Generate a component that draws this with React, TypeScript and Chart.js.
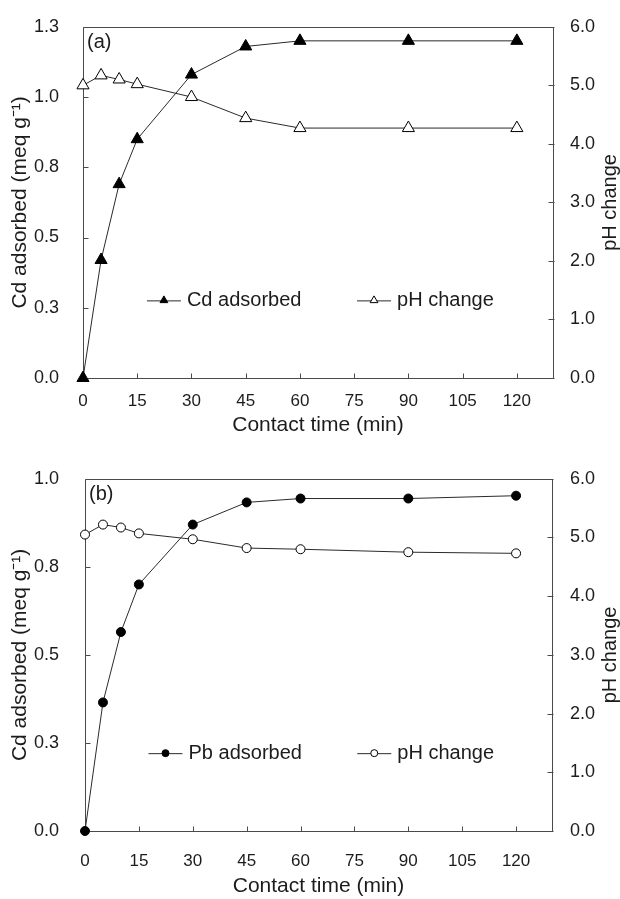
import React, { useEffect, useRef } from 'react';
import { Chart, registerables } from 'chart.js';

Chart.register(...registerables);

// ---- data ----
const time = [0, 5, 10, 15, 30, 45, 60, 90, 120];
const cdAdsorbed = [0, 0.42, 0.69, 0.85, 1.08, 1.18, 1.2, 1.2, 1.2];
const phChangeA = [5.0, 5.17, 5.1, 5.02, 4.8, 4.44, 4.27, 4.27, 4.27];
const pbAdsorbed = [0, 0.365, 0.565, 0.7, 0.87, 0.933, 0.944, 0.944, 0.952];
const phChangeB = [5.05, 5.22, 5.17, 5.07, 4.97, 4.82, 4.8, 4.75, 4.73];

const xTicks = [0, 15, 30, 45, 60, 75, 90, 105, 120];
const leftTicksA = [0, 0.25, 0.5, 0.75, 1.0, 1.25];
const leftTicksB = [0, 0.25, 0.5, 0.75, 1.0];
const rightTicks = [0, 1, 2, 3, 4, 5, 6];

const xTitle = 'Contact time (min)';
const leftTitle = 'Cd adsorbed (meq g\u207B\u00B9)';
const rightTitle = 'pH change';

const FONT = "'Liberation Sans', Arial, Helvetica, sans-serif";
const TEXT = '#1c1c1c';
const AXIS = '#4a4a4a';
const LINE = '#2a2a2a';

type Panel = {
  tag: string;
  adsorbed: number[];
  adsorbedName: string;
  ph: number[];
  leftMax: number;
  leftTicks: number[];
  pointStyle: 'triangle' | 'circle';
  radius: number;
  legendRadius: number;
  layout: {
    top: number;
    left: number;
    right: number;
    xHeight: number;
    xTickPad: number;
    xTitlePad: number;
    leftTickPad: number;
    rightTickPad: number;
  };
};

const panels: Panel[] = [
  {
    tag: '(a)',
    adsorbed: cdAdsorbed,
    adsorbedName: 'Cd adsorbed',
    ph: phChangeA,
    leftMax: 1.25,
    leftTicks: leftTicksA,
    pointStyle: 'triangle',
    radius: 7,
    legendRadius: 4.5,
    layout: { top: 17, left: 83, right: 67, xHeight: 71, xTickPad: 5, xTitlePad: 11, leftTickPad: 16, rightTickPad: 9 },
  },
  {
    tag: '(b)',
    adsorbed: pbAdsorbed,
    adsorbedName: 'Pb adsorbed',
    ph: phChangeB,
    leftMax: 1.0,
    leftTicks: leftTicksB,
    pointStyle: 'circle',
    radius: 4.5,
    legendRadius: 3.5,
    layout: { top: 22, left: 85, right: 68, xHeight: 68, xTickPad: 12, xTitlePad: 0, leftTickPad: 18, rightTickPad: 10 },
  },
];

function drawMarker(ctx: CanvasRenderingContext2D, style: string, x: number, y: number, r: number, filled: boolean) {
  ctx.beginPath();
  if (style === 'triangle') {
    let rad = 0;
    ctx.moveTo(x + Math.sin(rad) * r, y - Math.cos(rad) * r);
    rad += (2 * Math.PI) / 3;
    ctx.lineTo(x + Math.sin(rad) * r, y - Math.cos(rad) * r);
    rad += (2 * Math.PI) / 3;
    ctx.lineTo(x + Math.sin(rad) * r, y - Math.cos(rad) * r);
    ctx.closePath();
  } else {
    ctx.arc(x, y, r, 0, Math.PI * 2);
  }
  ctx.fillStyle = filled ? '#000' : '#fff';
  ctx.fill();
  ctx.strokeStyle = '#000';
  ctx.lineWidth = 1;
  ctx.stroke();
}

function makeDecor(panel: Panel) {
  return {
    id: 'decor',
    beforeDatasetsDraw(chart: any) {
      const ctx = chart.ctx as CanvasRenderingContext2D;
      const a = chart.chartArea;
      ctx.save();
      ctx.strokeStyle = AXIS;
      ctx.lineWidth = 1;
      const L = Math.round(a.left) + 0.5;
      const R = Math.round(a.right) + 0.5;
      const T = Math.round(a.top) + 0.5;
      const B = Math.round(a.bottom) + 0.5;
      ctx.beginPath();
      ctx.rect(L, T, R - L, B - T);
      ctx.stroke();
      const tl = 5;
      ctx.beginPath();
      const xs = chart.scales.x;
      xTicks.forEach((v) => {
        const px = Math.round(xs.getPixelForValue(v)) + 0.5;
        ctx.moveTo(px, B);
        ctx.lineTo(px, B - tl);
      });
      const ys = chart.scales.y;
      panel.leftTicks.forEach((v) => {
        const py = Math.round(ys.getPixelForValue(v)) + 0.5;
        ctx.moveTo(L, py);
        ctx.lineTo(L + tl, py);
      });
      const y1 = chart.scales.y1;
      rightTicks.forEach((v) => {
        const py = Math.round(y1.getPixelForValue(v)) + 0.5;
        ctx.moveTo(R - tl, py);
        ctx.lineTo(R + 1, py);
      });
      ctx.stroke();
      ctx.restore();
    },
    afterDraw(chart: any) {
      const ctx = chart.ctx as CanvasRenderingContext2D;
      const a = chart.chartArea;
      const w = a.right - a.left;
      const h = a.bottom - a.top;
      ctx.save();
      ctx.fillStyle = TEXT;
      ctx.font = `20px ${FONT}`;
      ctx.textBaseline = 'middle';
      ctx.textAlign = 'left';
      // panel tag
      ctx.fillText(panel.tag, a.left + 4, a.top + 16);
      // legend
      const ly = a.top + h * 0.779;
      const items = [
        { name: panel.adsorbedName, filled: true, fx: 0.136 },
        { name: rightTitle, filled: false, fx: 0.583 },
      ];
      items.forEach((it) => {
        const x0 = a.left + w * it.fx;
        const x1 = x0 + 34;
        ctx.strokeStyle = LINE;
        ctx.lineWidth = 1;
        ctx.beginPath();
        ctx.moveTo(x0, ly + 0.5);
        ctx.lineTo(x1, ly + 0.5);
        ctx.stroke();
        drawMarker(ctx, panel.pointStyle, (x0 + x1) / 2, ly, panel.legendRadius, it.filled);
        ctx.fillStyle = TEXT;
        ctx.fillText(it.name, x1 + 6, ly);
      });
      // right title, reading bottom to top
      ctx.save();
      ctx.translate(chart.width - 10, (a.top + a.bottom) / 2);
      ctx.rotate(-Math.PI / 2);
      ctx.textAlign = 'center';
      ctx.fillText(rightTitle, 0, 0);
      ctx.restore();
      ctx.restore();
    },
  };
}

function PanelChart({ panel }: { panel: Panel }) {
  const ref = useRef<HTMLCanvasElement | null>(null);
  useEffect(() => {
    if (!ref.current) return;
    const lay = panel.layout;
    const tickFont = { family: FONT, size: 18 };
    const xTickFont = { family: FONT, size: 17 };
    const titleFont = { family: FONT, size: 21, lineHeight: 1.2 };
    const chart = new Chart(ref.current, {
      type: 'line',
      data: {
        datasets: [
          {
            label: panel.adsorbedName,
            data: time.map((t, i) => ({ x: t, y: panel.adsorbed[i] })),
            yAxisID: 'y',
            borderColor: LINE,
            borderWidth: 1,
            pointStyle: panel.pointStyle,
            pointRadius: panel.radius,
            pointBackgroundColor: '#000',
            pointBorderColor: '#000',
            pointBorderWidth: 1,
            tension: 0,
            clip: false,
          } as any,
          {
            label: rightTitle,
            data: time.map((t, i) => ({ x: t, y: panel.ph[i] })),
            yAxisID: 'y1',
            borderColor: LINE,
            borderWidth: 1,
            pointStyle: panel.pointStyle,
            pointRadius: panel.radius,
            pointBackgroundColor: '#fff',
            pointBorderColor: '#000',
            pointBorderWidth: 1,
            tension: 0,
            clip: false,
          } as any,
        ],
      },
      options: {
        animation: false,
        responsive: false,
        layout: { padding: { top: lay.top, left: 0, right: 0, bottom: 0 } },
        plugins: { legend: { display: false }, tooltip: { enabled: false } },
        scales: {
          x: {
            type: 'linear',
            min: 0,
            max: 130,
            afterBuildTicks: (s: any) => {
              s.ticks = xTicks.map((v) => ({ value: v }));
            },
            afterFit: (s: any) => {
              s.height = lay.xHeight;
            },
            grid: { display: false },
            border: { display: false },
            ticks: { font: xTickFont, color: TEXT, padding: lay.xTickPad, maxRotation: 0, autoSkip: false, callback: (v: any) => String(v) },
            title: { display: true, text: xTitle, font: titleFont, color: TEXT, padding: { top: 0, bottom: lay.xTitlePad } },
          },
          y: {
            type: 'linear',
            position: 'left',
            min: 0,
            max: panel.leftMax,
            afterBuildTicks: (s: any) => {
              s.ticks = panel.leftTicks.map((v) => ({ value: v }));
            },
            afterFit: (s: any) => {
              s.width = lay.left;
            },
            grid: { display: false },
            border: { display: false },
            ticks: { font: tickFont, color: TEXT, padding: lay.leftTickPad, callback: (v: any) => Number(v).toFixed(1) },
            title: { display: true, text: leftTitle, font: titleFont, color: TEXT, padding: { top: 8, bottom: 0 } },
          },
          y1: {
            type: 'linear',
            position: 'right',
            min: 0,
            max: 6,
            afterBuildTicks: (s: any) => {
              s.ticks = rightTicks.map((v) => ({ value: v }));
            },
            afterFit: (s: any) => {
              s.width = lay.right;
            },
            grid: { display: false },
            border: { display: false },
            ticks: { font: tickFont, color: TEXT, padding: lay.rightTickPad, callback: (v: any) => Number(v).toFixed(1) },
            title: { display: false },
          },
        },
      } as any,
      plugins: [makeDecor(panel)],
    });
    return () => chart.destroy();
  }, [panel]);
  return <canvas ref={ref} width={620} height={449} style={{ display: 'block', width: 620, height: 449 }} />;
}

export default function App() {
  return (
    <div style={{ position: 'absolute', left: 0, top: 0, width: 620, height: 899, background: '#fff' }}>
      <PanelChart panel={panels[0]} />
      <div style={{ height: 1 }} />
      <PanelChart panel={panels[1]} />
    </div>
  );
}
